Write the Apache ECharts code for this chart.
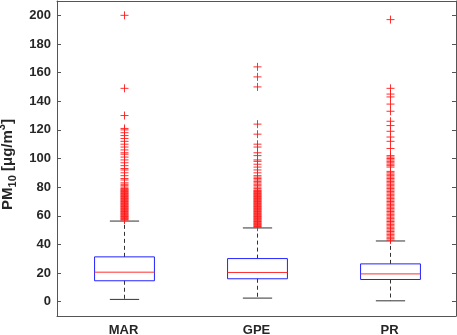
<!DOCTYPE html>
<html>
<head>
<meta charset="utf-8">
<script src="https://cdn.jsdelivr.net/npm/echarts@6/dist/echarts.min.js"></script>
<style>html,body{margin:0;padding:0;background:#fff}#c{width:457px;height:335px}</style>
</head>
<body>
<div id="c"></div>
<script>
const categories = ['MAR', 'GPE', 'PR'];
const lowerWhisker = [1.6, 2.5, 0.6];
const q1 = [14.6, 16.0, 15.5];
const median = [20.6, 20.4, 19.4];
const q3 = [31.3, 30.1, 26.4];
const upperWhisker = [56.3, 51.5, 42.4];
const yTicks = [0, 20, 40, 60, 80, 100, 120, 140, 160, 180, 200];

const outliersMAR = [200, 149, 130, 121, 120, 118, 116, 114, 112, 110, 108, 106, 104, 103, 101, 99, 97, 95, 93, 92, 90, 88, 86, 85, 83, 82, 81, 80, 79, 78.5, 78, 77.5, 77, 76.5, 76, 75.5, 75, 74.5, 74, 73.5, 73, 72.5, 72, 71.5, 71, 70.5, 70, 69.5, 69, 68.5, 68, 67.5, 67, 66.5, 66, 65.5, 65, 64.5, 64, 63.5, 63, 62.5, 62, 61.5, 61, 60.5, 60, 59.5, 59, 58.5, 58, 57.5, 57];
const outliersGPE = [164, 157, 150, 124, 117, 110, 108, 104, 102, 99, 98, 96, 94, 92, 90, 88, 87, 86, 85, 84, 83, 82, 81, 80, 79, 78, 77.5, 77, 76.5, 76, 75.5, 75, 74.5, 74, 73.5, 73, 72.5, 72, 71.5, 71, 70.5, 70, 69.5, 69, 68.5, 68, 67.5, 67, 66.5, 66, 65.5, 65, 64.5, 64, 63.5, 63, 62.5, 62, 61.5, 61, 60.5, 60, 59.5, 59, 58.5, 58, 57.5, 57, 56.5, 56, 55.5, 55, 54.5, 54, 53.5, 53, 52.5, 52];
const outliersPR = [197, 149, 145, 143, 138, 133, 126, 123, 119, 115, 112, 107, 102, 101, 100, 99, 98, 97, 96, 95, 94, 91, 90, 89, 88, 87, 86, 85, 84, 83, 82, 81, 80, 79, 78, 77, 76, 75, 74, 73, 72, 71, 70, 69, 68, 67, 66, 65, 64, 63, 62, 61, 60, 59, 58, 57, 56, 55, 54, 53, 52, 51, 50, 49, 48, 47, 46, 45, 44, 43];

const boxData = categories.map((c, i) => [i, lowerWhisker[i], q1[i], median[i], q3[i], upperWhisker[i]]);
const outlierData = []
  .concat(outliersMAR.map(v => [0, v]))
  .concat(outliersGPE.map(v => [1, v]))
  .concat(outliersPR.map(v => [2, v]));

function renderBox(params, api) {
  const x = api.value(0);
  const band = api.size([1, 0])[0];
  const boxW = band * 0.45, capW = band * 0.22;
  const pL = api.coord([x, api.value(1)]);
  const pQ1 = api.coord([x, api.value(2)]);
  const pM = api.coord([x, api.value(3)]);
  const pQ3 = api.coord([x, api.value(4)]);
  const pU = api.coord([x, api.value(5)]);
  const cx = Math.round(pL[0]) + 0.5;
  const wh = {stroke: '#333', lineWidth: 1, lineDash: [4, 3]};
  const cap = {stroke: '#333', lineWidth: 1};
  return {
    type: 'group',
    children: [
      {type: 'line', shape: {x1: cx, y1: pQ3[1], x2: cx, y2: pU[1]}, style: wh},
      {type: 'line', shape: {x1: cx, y1: pQ1[1], x2: cx, y2: pL[1]}, style: wh},
      {type: 'line', shape: {x1: cx - capW / 2, y1: pU[1], x2: cx + capW / 2, y2: pU[1]}, style: cap},
      {type: 'line', shape: {x1: cx - capW / 2, y1: pL[1], x2: cx + capW / 2, y2: pL[1]}, style: cap},
      {type: 'rect', shape: {x: cx - boxW / 2, y: pQ3[1], width: boxW, height: pQ1[1] - pQ3[1]}, style: {fill: 'none', stroke: '#2222ff', lineWidth: 1}},
      {type: 'line', shape: {x1: cx - boxW / 2, y1: pM[1], x2: cx + boxW / 2, y2: pM[1]}, style: {stroke: '#ff3030', lineWidth: 1}}
    ]
  };
}

function renderPlus(params, api) {
  const p = api.coord([api.value(0), api.value(1)]);
  const cx = Math.round(p[0]) + 0.5;
  const cy = p[1];
  const h = 4;
  const st = {stroke: '#ff1a1a', lineWidth: 1, opacity: 0.9};
  return {
    type: 'group',
    children: [
      {type: 'line', shape: {x1: cx - h, y1: cy, x2: cx + h, y2: cy}, style: st},
      {type: 'line', shape: {x1: cx, y1: cy - h, x2: cx, y2: cy + h}, style: st}
    ]
  };
}

const axisCol = '#555';
const labelStyle = {color: '#262626', fontWeight: 'bold', fontSize: 13, fontFamily: 'Liberation Sans, Arial, sans-serif'};

const chart = echarts.init(document.getElementById('c'), null, {renderer: 'canvas'});
chart.setOption({
  animation: false,
  backgroundColor: '#fff',
  grid: {left: 57, right: 1, top: 1, bottom: 19, containLabel: false, outerBoundsMode: 'none'},
  xAxis: [
    {type: 'category', data: categories, boundaryGap: true, position: 'bottom',
     axisLine: {onZero: false, lineStyle: {color: axisCol}},
     axisTick: {inside: true, length: 4, alignWithLabel: true, lineStyle: {color: axisCol}},
     axisLabel: Object.assign({margin: 8}, labelStyle),
     splitLine: {show: false}},
    {type: 'category', data: categories, boundaryGap: true, position: 'top',
     axisLine: {onZero: false, lineStyle: {color: axisCol}},
     axisTick: {inside: true, length: 4, alignWithLabel: true, lineStyle: {color: axisCol}},
     axisLabel: {show: false}, splitLine: {show: false}}
  ],
  yAxis: [
    {type: 'value', min: -10, max: 210, position: 'left',
     axisLine: {show: true, onZero: false, lineStyle: {color: axisCol}},
     axisTick: {show: true, inside: true, length: 4, customValues: yTicks, lineStyle: {color: axisCol}},
     axisLabel: Object.assign({margin: 6, customValues: yTicks}, labelStyle),
     splitLine: {show: false},
     name: '{a|PM}{s|10}{a| [μg/m}{p|3}{a|]}',
     nameLocation: 'middle', nameGap: 36,
     nameTextStyle: {
       color: '#262626', fontFamily: 'Liberation Sans, Arial, sans-serif', fontWeight: 'bold',
       padding: [0, 12, 0, 0],
       rich: {
         a: {fontSize: 15, fontWeight: 'bold', color: '#262626', fontFamily: 'Liberation Sans, Arial, sans-serif', lineHeight: 22, verticalAlign: 'middle'},
         s: {fontSize: 11, fontWeight: 'bold', color: '#262626', fontFamily: 'Liberation Sans, Arial, sans-serif', lineHeight: 22, verticalAlign: 'bottom', padding: [8, 0, 0, 0]},
         p: {fontSize: 11, fontWeight: 'bold', color: '#262626', fontFamily: 'Liberation Sans, Arial, sans-serif', lineHeight: 22, verticalAlign: 'top', padding: [0, 0, 8, 0]}
       }
     }},
    {type: 'value', min: -10, max: 210, position: 'right',
     axisLine: {show: true, onZero: false, lineStyle: {color: axisCol}},
     axisTick: {show: true, inside: true, length: 4, customValues: yTicks, lineStyle: {color: axisCol}},
     axisLabel: {show: false}, splitLine: {show: false}}
  ],
  series: [
    {type: 'custom', renderItem: renderBox, data: boxData, xAxisIndex: 0, yAxisIndex: 0,
     encode: {x: 0, y: [1, 2, 3, 4, 5]}, z: 2, silent: true},
    {type: 'custom', renderItem: renderPlus, data: outlierData, xAxisIndex: 0, yAxisIndex: 0,
     encode: {x: 0, y: 1}, z: 3, silent: true}
  ]
});
</script>
</body>
</html>
